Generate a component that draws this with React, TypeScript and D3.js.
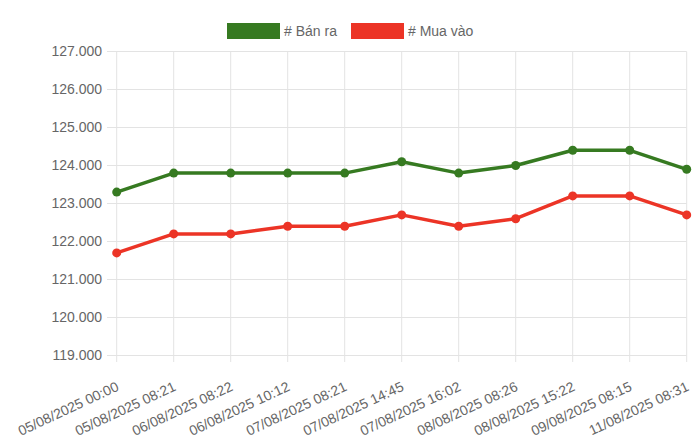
import React from "react";
import * as d3 from "d3";

const labels = [
  "05/08/2025 00:00",
  "05/08/2025 08:21",
  "06/08/2025 08:22",
  "06/08/2025 10:12",
  "07/08/2025 08:21",
  "07/08/2025 14:45",
  "07/08/2025 16:02",
  "08/08/2025 08:26",
  "08/08/2025 15:22",
  "09/08/2025 08:15",
  "11/08/2025 08:31",
];

const sellValues = [123300, 123800, 123800, 123800, 123800, 124100, 123800, 124000, 124400, 124400, 123900];
const buyValues = [121700, 122200, 122200, 122400, 122400, 122700, 122400, 122600, 123200, 123200, 122700];

const yTicks = [119000, 120000, 121000, 122000, 123000, 124000, 125000, 126000, 127000];

const seriesNames = ["# Bán ra", "# Mua vào"];
const seriesColors = ["#367a21", "#ec3426"];

const W = 700;
const H = 441;
const FONT = "'Liberation Sans', Arial, Helvetica, sans-serif";

const viLocale = d3.formatLocale({
  decimal: ",",
  thousands: ".",
  grouping: [3],
  currency: ["", " đ"],
});
const fmt = viLocale.format(",d");

const App: React.FC = () => {
  const x = d3.scalePoint<string>().domain(labels).range([116.7, 686.7]);
  const y = d3.scaleLinear().domain([119000, 127000]).range([355.5, 51.5]);

  const line = d3
    .line<number>()
    .x((_, i) => x(labels[i]) as number)
    .y((d) => y(d));

  const series = [sellValues, buyValues];

  return (
    <svg
      width={W}
      height={H}
      style={{ position: "absolute", left: 0, top: 0, background: "#fff" }}
      fontFamily={FONT}
    >
      {/* horizontal grid + y labels */}
      {yTicks.map((t) => (
        <g key={t}>
          <line x1={107} x2={686.7} y1={y(t)} y2={y(t)} stroke="#e3e3e3" strokeWidth={1} />
          <text
            x={102}
            y={y(t)}
            dy="0.35em"
            textAnchor="end"
            fontSize={14}
            fill="#666"
          >
            {fmt(t)}
          </text>
        </g>
      ))}

      {/* vertical grid + x labels */}
      {labels.map((l) => {
        const px = x(l) as number;
        return (
          <g key={l}>
            <line x1={px} x2={px} y1={51.5} y2={362} stroke="#e3e3e3" strokeWidth={1} />
            <text
              transform={`translate(${px + 3},390) rotate(-25)`}
              textAnchor="end"
              fontSize={14}
              fill="#666"
            >
              {l}
            </text>
          </g>
        );
      })}

      {/* series */}
      {series.map((vals, si) => (
        <g key={si}>
          <path
            d={line(vals) || ""}
            fill="none"
            stroke={seriesColors[si]}
            strokeWidth={3.5}
            strokeLinejoin="round"
          />
          {vals.map((v, i) => (
            <circle
              key={i}
              cx={x(labels[i]) as number}
              cy={y(v)}
              r={4.5}
              fill={seriesColors[si]}
            />
          ))}
        </g>
      ))}

      {/* legend */}
      <g>
        <rect x={227} y={23} width={53} height={16} fill={seriesColors[0]} />
        <text x={284} y={36} fontSize={14} fill="#666">
          {seriesNames[0]}
        </text>
        <rect x={351} y={23} width={53} height={16} fill={seriesColors[1]} />
        <text x={408} y={36} fontSize={14} fill="#666">
          {seriesNames[1]}
        </text>
      </g>
    </svg>
  );
};

export default App;
